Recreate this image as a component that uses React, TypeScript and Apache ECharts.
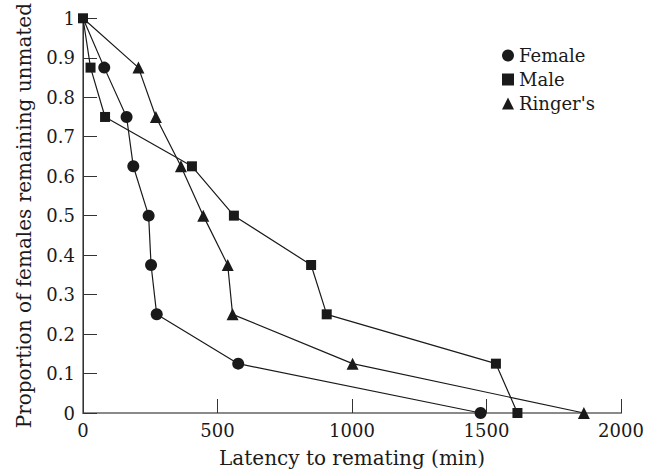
import React, { useEffect, useRef } from "react";
import * as echarts from "echarts";

const proportions = [1, 0.875, 0.75, 0.625, 0.5, 0.375, 0.25, 0.125, 0];
const femaleLatency = [0, 79, 162, 187, 244, 253, 274, 577, 1478];
const maleLatency = [0, 28, 82, 405, 561, 848, 906, 1535, 1615];
const ringerLatency = [0, 206, 271, 364, 447, 538, 556, 1002, 1862];
const seriesNames = ["Female", "Male", "Ringer's"];
const xTicks = [0, 500, 1000, 1500, 2000];

const FONT = "DejaVu Serif";
const INK = "#1a1a1a";

function build(xs: number[], hideFirst: boolean) {
  return xs.map((x, i) => {
    const item: any = { value: [x, proportions[i]] };
    if (hideFirst && i === 0) item.symbol = "none";
    return item;
  });
}

export default function App() {
  const ref = useRef<HTMLDivElement>(null);
  useEffect(() => {
    if (!ref.current) return;
    const chart = echarts.init(ref.current, null, { renderer: "svg" });
    const lineStyle = { color: INK, width: 1.2 };
    chart.setOption({
      animation: false,
      backgroundColor: "#ffffff",
      textStyle: { fontFamily: FONT },
      grid: { left: 83, right: 39, top: 15, bottom: 62 },
      legend: {
        orient: "vertical",
        left: 497,
        top: 41,
        itemWidth: 12,
        itemHeight: 12,
        itemGap: 5,
        textStyle: { fontFamily: FONT, fontSize: 18, color: INK, lineHeight: 19 },
        data: [
          { name: seriesNames[0], icon: "circle" },
          { name: seriesNames[1], icon: "rect" },
          { name: seriesNames[2], icon: "triangle" },
        ],
      },
      xAxis: [
        {
          type: "value",
          min: xTicks[0],
          max: xTicks[xTicks.length - 1],
          interval: 500,
          name: "Latency to remating (min)",
          nameLocation: "middle",
          nameGap: 35,
          nameTextStyle: { fontFamily: FONT, fontSize: 20, color: INK },
          axisLine: { show: true, lineStyle: { color: "#8a8a8a", width: 2 } },
          axisTick: { show: true, inside: true, length: 14, lineStyle: { color: "#333", width: 1 } },
          axisLabel: { fontFamily: FONT, fontSize: 18, color: INK, margin: 8, formatter: (v: number) => String(v) },
          splitLine: { show: false },
        },
        {
          type: "value",
          position: "top",
          min: 0,
          max: 2000,
          axisLine: { show: true, lineStyle: { color: "#8a8a8a", width: 2 } },
          axisTick: { show: false },
          axisLabel: { show: false },
          splitLine: { show: false },
        },
      ],
      yAxis: [
        {
          type: "value",
          min: 0,
          max: 1,
          interval: 0.1,
          name: "Proportion of females remaining unmated",
          nameLocation: "middle",
          nameGap: 49,
          nameTextStyle: { fontFamily: FONT, fontSize: 20, color: INK },
          axisLine: { show: true, lineStyle: { color: "#8a8a8a", width: 2 } },
          axisTick: { show: true, inside: true, length: 14, lineStyle: { color: "#333", width: 1 } },
          axisLabel: {
            fontFamily: FONT,
            fontSize: 18,
            color: INK,
            margin: 8,
            formatter: (v: number) => (v === 0 || v === 1 ? String(v) : v.toFixed(1)),
          },
          splitLine: { show: false },
        },
        {
          type: "value",
          position: "right",
          min: 0,
          max: 1,
          axisLine: { show: true, lineStyle: { color: "#333", width: 1 } },
          axisTick: { show: false },
          axisLabel: { show: false },
          splitLine: { show: false },
        },
      ],
      series: [
        {
          name: seriesNames[0],
          type: "line",
          symbol: "circle",
          symbolSize: 12,
          itemStyle: { color: INK },
          lineStyle,
          data: build(femaleLatency, true),
          z: 2,
        },
        {
          name: seriesNames[2],
          type: "line",
          symbol: "triangle",
          symbolSize: 12,
          itemStyle: { color: INK },
          lineStyle,
          data: build(ringerLatency, true),
          z: 2,
        },
        {
          name: seriesNames[1],
          type: "line",
          symbol: "rect",
          symbolSize: 10,
          itemStyle: { color: INK },
          lineStyle,
          data: build(maleLatency, false),
          z: 3,
        },
      ],
    });
    return () => chart.dispose();
  }, []);
  return (
    <div
      ref={ref}
      style={{ position: "fixed", left: 0, top: 0, width: 660, height: 475, background: "#fff" }}
    />
  );
}
